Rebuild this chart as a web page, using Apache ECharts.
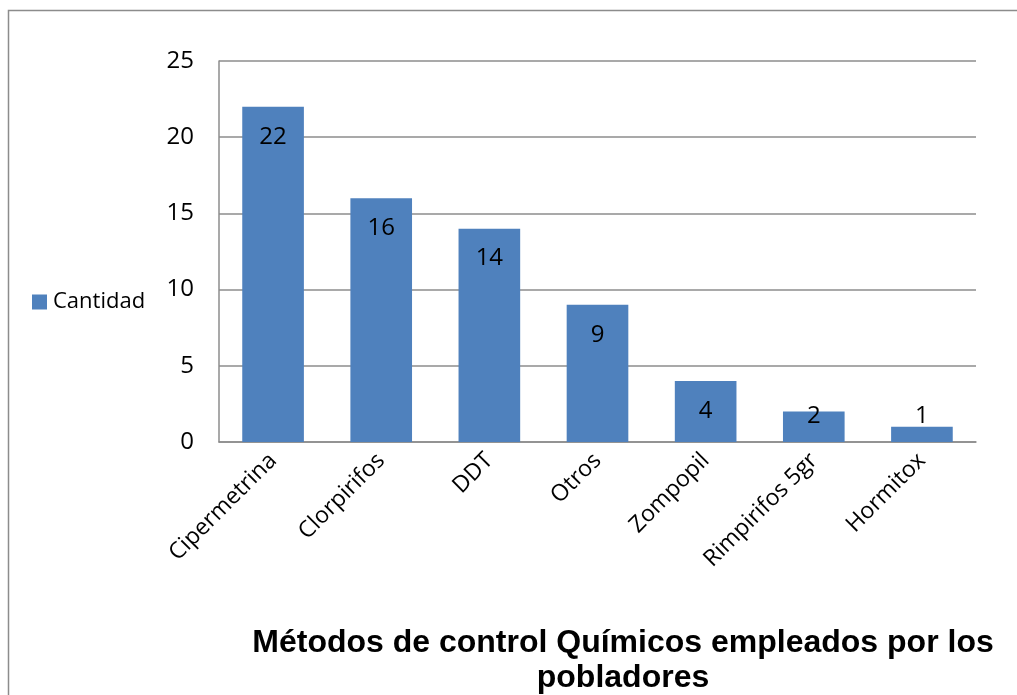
<!DOCTYPE html>
<html>
<head>
<meta charset="utf-8">
<script src="https://cdn.jsdelivr.net/npm/echarts@6/dist/echarts.min.js"></script>
<style>
  html, body { margin: 0; padding: 0; background: #fff; }
  #chart { width: 1017px; height: 695px; }
</style>
</head>
<body>
<div id="chart"></div>
<script>
// datos del grafico
var categorias = ["Cipermetrina", "Clorpirifos", "DDT", "Otros", "Zompopil", "Rimpirifos 5gr", "Hormitox"];
var cantidad = [22, 16, 14, 9, 4, 2, 1];
var yTicks = [0, 5, 10, 15, 20, 25];

var FONT = "'Open Sans', 'Noto Sans', sans-serif";

// barras muy bajas: la etiqueta se sale por arriba, como en Excel
var barData = cantidad.map(function (v) {
  if (v < 3) {
    return { value: v, label: { position: "insideBottom", distance: 14 } };
  }
  return v;
});

var myChart = echarts.init(document.getElementById("chart"));
var option = {
  animation: false,
  backgroundColor: "#fff",
  graphic: [
    {
      type: "rect",
      shape: { x: 8.5, y: 10.5, width: 1030, height: 720 },
      style: { fill: "none", stroke: "#8c8c8c", lineWidth: 1.5 },
      silent: true
    }
  ],
  title: {
    text: "Métodos de control Químicos empleados por los\npobladores",
    left: 618,
    top: 621,
    textAlign: "center",
    textStyle: {
      fontFamily: "'Liberation Sans', Arial, sans-serif",
      fontWeight: "bold",
      fontSize: 32,
      lineHeight: 35,
      color: "#000"
    }
  },
  legend: {
    left: 32,
    top: 291,
    padding: 0,
    orient: "vertical",
    itemWidth: 15,
    itemHeight: 15,
    itemGap: 5,
    icon: "rect",
    textStyle: { fontFamily: FONT, fontSize: 22, color: "#000", padding: [0, 0, 0, 1] },
    data: ["Cantidad"]
  },
  grid: { left: 219, top: 61, right: 41, bottom: 253 },
  xAxis: {
    type: "category",
    data: categorias,
    axisLine: { lineStyle: { color: "#8c8c8c", width: 1.5 } },
    axisTick: { show: false },
    axisLabel: {
      rotate: 45,
      margin: 15,
      interval: 0,
      fontFamily: FONT,
      fontSize: 23,
      color: "#000"
    }
  },
  yAxis: {
    type: "value",
    min: yTicks[0],
    max: yTicks[yTicks.length - 1],
    interval: 5,
    axisLine: { show: true, lineStyle: { color: "#8c8c8c", width: 1.5 } },
    axisTick: { show: false },
    splitLine: { lineStyle: { color: "#8c8c8c", width: 1.5 } },
    axisLabel: { margin: 25, fontFamily: FONT, fontSize: 24, color: "#000" }
  },
  series: [
    {
      name: "Cantidad",
      type: "bar",
      data: barData,
      barWidth: "57%",
      itemStyle: { color: "#4f81bd" },
      label: {
        show: true,
        position: "insideTop",
        distance: 18,
        fontFamily: FONT,
        fontSize: 24,
        color: "#000"
      }
    }
  ]
};
myChart.setOption(option, true);
</script>
</body>
</html>
